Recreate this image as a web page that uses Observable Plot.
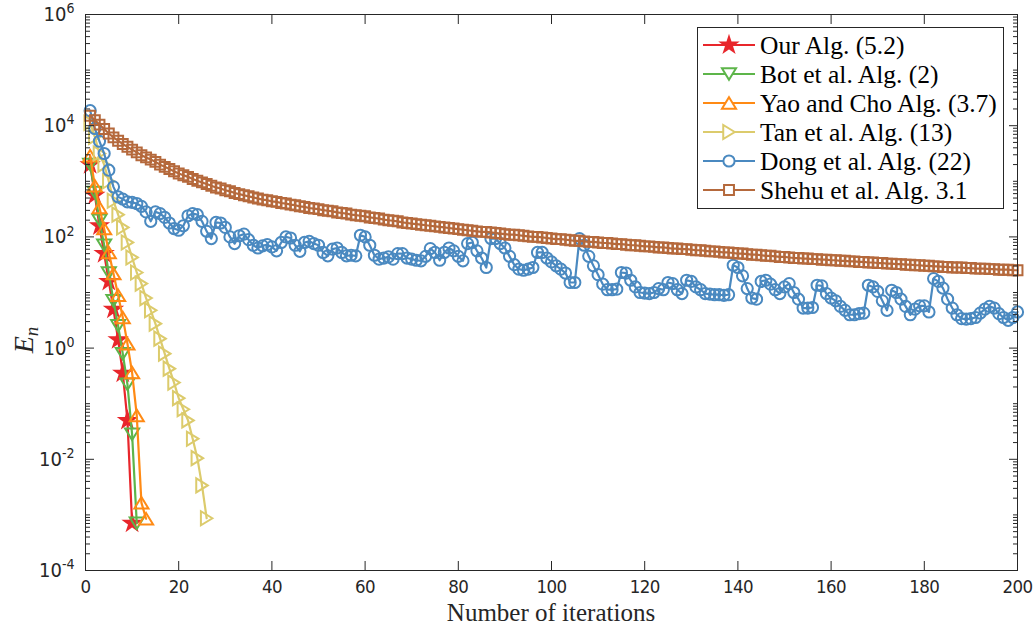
<!DOCTYPE html>
<html><head><meta charset="utf-8">
<script src="https://cdn.jsdelivr.net/npm/d3@7"></script>
<script src="https://cdn.jsdelivr.net/npm/@observablehq/plot@0.6"></script>
<style>
body{margin:0;background:#fff}
#wrap{position:relative;width:1033px;height:629px;background:#fff}
#legend{position:absolute;left:697px;top:27px}
</style>
</head><body><div id="wrap"></div>
<script>
// ---------- data (values are log10 of E_n, iteration n starts at 1) ----------
const iterTicks = [0,20,40,60,80,100,120,140,160,180,200];
const yLabelExps = [-4,-2,0,2,4,6];
const seriesNames = ["Our Alg. (5.2)","Bot et al. Alg. (2)","Yao and Cho Alg. (3.7)","Tan et al. Alg. (13)","Dong et al. Alg. (22)","Shehu et al. Alg. 3.1"];
const seriesColors = ["#e8262b","#5db54a","#ff8a14","#dccb6c","#4a89c0","#b5693c"];

const ourAlgExp = [3.3,2.75,2.2,1.7,1.2,0.7,0.15,-0.45,-1.3,-3.15];
const botExp = [3.3,2.8,2.3,1.85,1.35,0.85,0.4,-0.1,-0.65,-1.55,-3.15];
const yaoExp = [3.46,2.92,2.53,2.15,1.72,1.34,0.95,0.55,0.08,-0.44,-1.21,-2.78,-3.07];
const tanExp = [4.05,3.8,3.5,3.3,3.0,2.65,2.4,2.17,1.9,1.63,1.36,1.16,0.9,0.68,0.44,0.17,-0.1,-0.37,-0.62,-0.9,-1.1,-1.3,-1.63,-1.98,-2.47,-3.06];
const dongExp = [
4.27,3.95,3.72,3.5,3.2,2.9,2.72,2.68,2.63,2.62,
2.6,2.55,2.45,2.28,2.45,2.42,2.35,2.25,2.15,2.12,
2.2,2.38,2.42,2.4,2.28,2.1,1.97,2.26,2.25,2.17,
2.0,1.88,2.02,2.05,1.95,1.85,1.8,1.84,1.86,1.82,
1.75,1.9,2.0,1.98,1.85,1.74,1.9,1.92,1.88,1.85,
1.72,1.66,1.78,1.8,1.72,1.66,1.67,1.66,2.03,2.0,
1.85,1.67,1.6,1.62,1.64,1.6,1.7,1.7,1.62,1.6,
1.58,1.57,1.65,1.79,1.72,1.58,1.72,1.8,1.75,1.65,
1.57,1.88,1.9,1.75,1.62,1.45,1.97,1.97,1.88,1.8,
1.65,1.5,1.42,1.4,1.42,1.45,1.72,1.72,1.62,1.55,
1.48,1.42,1.35,1.18,1.18,1.97,1.85,1.65,1.48,1.32,
1.15,1.05,1.05,1.06,1.36,1.35,1.22,1.1,1.0,0.99,
0.98,1.0,1.07,1.05,1.18,1.16,1.05,0.98,1.22,1.2,
1.1,1.05,0.98,0.97,0.96,0.96,0.95,0.96,1.49,1.45,
1.3,1.07,0.9,0.88,1.2,1.22,1.15,1.05,0.98,1.1,
1.16,1.0,0.88,0.72,0.72,0.73,1.13,1.12,0.98,0.9,
0.85,0.75,0.68,0.6,0.6,0.62,0.63,1.13,1.1,1.02,
0.85,0.68,1.04,1.0,0.88,0.75,0.6,0.7,0.76,0.76,
0.65,1.25,1.2,1.08,0.88,0.72,0.6,0.53,0.52,0.53,
0.55,0.63,0.7,0.75,0.72,0.62,0.55,0.5,0.55,0.65];
const shehuExp = [
4.18,4.10,4.02,3.94,3.86,3.79,3.73,3.67,3.62,3.57,
3.52,3.47,3.43,3.39,3.35,3.30,3.26,3.22,3.18,3.14,
3.11,3.08,3.04,3.01,2.98,2.95,2.92,2.89,2.87,2.84,
2.82,2.79,2.77,2.75,2.73,2.71,2.69,2.67,2.66,2.64,
2.63,2.61,2.60,2.58,2.57,2.55,2.54,2.52,2.51,2.50,
2.48,2.47,2.46,2.44,2.43,2.42,2.40,2.39,2.38,2.37,
2.35,2.34,2.33,2.31,2.30,2.29,2.28,2.26,2.25,2.24,
2.23,2.22,2.21,2.20,2.19,2.18,2.17,2.16,2.15,2.14,
2.13,2.12,2.11,2.10,2.09,2.09,2.08,2.07,2.06,2.05,
2.04,2.04,2.03,2.02,2.01,2.00,2.00,1.99,1.98,1.97,
1.96,1.96,1.95,1.94,1.93,1.93,1.92,1.91,1.91,1.90,
1.89,1.89,1.88,1.87,1.87,1.86,1.85,1.85,1.84,1.83,
1.83,1.82,1.81,1.81,1.80,1.79,1.79,1.78,1.78,1.77,
1.76,1.76,1.75,1.74,1.74,1.73,1.72,1.72,1.71,1.70,
1.70,1.69,1.68,1.68,1.67,1.66,1.66,1.65,1.64,1.64,
1.63,1.62,1.62,1.61,1.61,1.60,1.60,1.59,1.59,1.58,
1.58,1.57,1.57,1.56,1.56,1.55,1.55,1.54,1.54,1.53,
1.53,1.52,1.52,1.51,1.51,1.50,1.50,1.49,1.49,1.48,
1.48,1.47,1.47,1.46,1.46,1.45,1.45,1.45,1.44,1.44,
1.43,1.43,1.43,1.42,1.42,1.41,1.41,1.41,1.40,1.40];

// ---------- marker shapes ----------
const rOf = s => Math.sqrt(s / Math.PI);
const triUp = {draw(c, s){const r=rOf(s), w=r*1.1, h=r*0.9; c.moveTo(0,-h); c.lineTo(w,h); c.lineTo(-w,h); c.closePath();}};
const triDown = {draw(c, s){const r=rOf(s), w=r*1.1, h=r*0.9; c.moveTo(0,h); c.lineTo(w,-h); c.lineTo(-w,-h); c.closePath();}};
const triRight = {draw(c, s){const r=rOf(s), w=r*1.1, h=r*0.9; c.moveTo(h,0); c.lineTo(-h,-w); c.lineTo(-h,w); c.closePath();}};
const square = {draw(c, s){const r=rOf(s)*0.8; c.rect(-r,-r,2*r,2*r);}};
const circle = {draw(c, s){const r=rOf(s); c.moveTo(r,0); c.arc(0,0,r,0,2*Math.PI);}};
const star = d3.symbolStar;

const seriesExps = [ourAlgExp, botExp, yaoExp, tanExp, dongExp, shehuExp];
const seriesSymbols = [star, triDown, triUp, triRight, circle, square];
const seriesR = [4.8, 6.4, 6.4, 6.4, 5.6, 6.2];
const seriesFill = [true, false, false, false, false, false];

const toPoints = arr => arr.map((v, i) => ({n: i + 1, E: Math.pow(10, v)}));
const seriesData = seriesExps.map(toPoints);

// tick positions
const yMajor = yLabelExps.map(e => Math.pow(10, e));
const yMinor = [];
for (let e = -4; e < 6; e++) {
  for (let m = 2; m <= 9; m++) yMinor.push(m * Math.pow(10, e));
  if (e % 2 !== 0) yMinor.push(Math.pow(10, e));
}

const axisColor = "#262626";
const tickFont = "'Liberation Sans Narrow','DejaVu Sans Condensed','Liberation Sans',Arial,sans-serif";
const serif = "'Liberation Serif','Times New Roman',serif";

const marks = [];
seriesData.forEach((d, i) => {
  marks.push(Plot.line(d, {x: "n", y: "E", stroke: seriesColors[i], strokeWidth: 2.2}));
  marks.push(Plot.dot(d, {x: "n", y: "E", symbol: seriesSymbols[i], r: seriesR[i],
    stroke: seriesColors[i], strokeWidth: 2, fill: seriesFill[i] ? seriesColors[i] : "none"}));
});

const noText = () => "";
marks.push(
  Plot.frame({stroke: axisColor, strokeWidth: 1}),
  Plot.axisX({anchor: "bottom", ticks: iterTicks, tickSize: -9, tickFormat: noText, label: null, stroke: axisColor}),
  Plot.axisX({anchor: "top", ticks: iterTicks, tickSize: -9, tickFormat: noText, label: null, stroke: axisColor}),
  Plot.axisX({anchor: "bottom", ticks: iterTicks, tickSize: 0, tickPadding: 9, label: null,
    fontSize: 18.5, fontFamily: tickFont, fill: axisColor}),
  Plot.axisY({anchor: "left", ticks: yMajor, tickSize: -9, tickFormat: noText, label: null, stroke: axisColor}),
  Plot.axisY({anchor: "right", ticks: yMajor, tickSize: -9, tickFormat: noText, label: null, stroke: axisColor}),
  Plot.axisY({anchor: "left", ticks: yMinor, tickSize: -5, tickFormat: noText, label: null, stroke: axisColor}),
  Plot.axisY({anchor: "right", ticks: yMinor, tickSize: -5, tickFormat: noText, label: null, stroke: axisColor}),
  Plot.axisY({anchor: "left", ticks: yMajor, tickSize: 0, tickPadding: 11, label: null,
    tickFormat: d => String(Math.round(Math.log10(d))), fontSize: 20, fontFamily: tickFont, fill: axisColor})
);

const chart = Plot.plot({
  width: 1033, height: 629,
  marginLeft: 85, marginRight: 16, marginTop: 14, marginBottom: 59,
  x: {domain: [0, 200]},
  y: {type: "log", domain: [1e-4, 1e6]},
  style: {background: "#fff"},
  marks
});
document.getElementById("wrap").appendChild(chart);

// remove empty tick-label texts; superscript exponents for y tick labels
const svg = d3.select(chart);
svg.selectAll('g[aria-label$="tick label"] text').filter(function() { return d3.select(this).text() === ""; }).remove();
svg.selectAll('g[aria-label="x-axis tick label"] text').attr("letter-spacing", "-0.6px");
svg.selectAll('g[aria-label="y-axis tick label"] text').each(function() {
  const t = d3.select(this);
  const exp = t.text();
  t.text(null);
  t.append("tspan").text("10");
  t.append("tspan").attr("dy", "-0.55em").attr("font-size", "14px").text(exp);
});

// axis labels
svg.append("text").attr("x", 551).attr("y", 621).attr("text-anchor", "middle")
  .attr("font-family", serif).attr("font-size", 25).attr("fill", axisColor).text("Number of iterations");
const yl = svg.append("text").attr("transform", "translate(33,340) rotate(-90)").attr("text-anchor", "middle")
  .attr("font-family", serif).attr("font-size", 28).attr("font-style", "italic").attr("fill", axisColor);
yl.append("tspan").text("E");
yl.append("tspan").attr("font-size", 19).attr("dy", "0.25em").text("n");

// legend
const lg = d3.select("#wrap").append("svg").attr("id", "legend").attr("width", 307).attr("height", 183);
lg.append("rect").attr("x", 0.5).attr("y", 0.5).attr("width", 306).attr("height", 181)
  .attr("fill", "#fff").attr("stroke", axisColor).attr("stroke-width", 1);
seriesNames.forEach((name, i) => {
  const cy = 18 + i * 29;
  lg.append("line").attr("x1", 6).attr("x2", 58).attr("y1", cy).attr("y2", cy)
    .attr("stroke", seriesColors[i]).attr("stroke-width", 2.2);
  lg.append("path").attr("transform", `translate(32,${cy})`)
    .attr("d", d3.symbol(seriesSymbols[i], Math.PI * seriesR[i] * seriesR[i])())
    .attr("stroke", seriesColors[i]).attr("stroke-width", 2)
    .attr("fill", seriesFill[i] ? seriesColors[i] : "#fff");
  lg.append("text").attr("x", 63).attr("y", cy).attr("dy", "0.34em")
    .attr("font-family", serif).attr("font-size", 25.5).attr("fill", "#000").text(name);
});
</script>
</body></html>
